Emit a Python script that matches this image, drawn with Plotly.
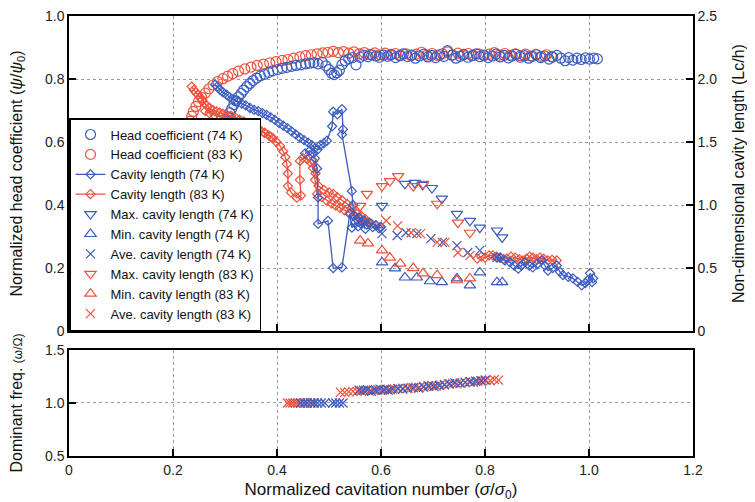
import plotly.graph_objects as go

BLUE = "#3b5cc0"
RED = "#f0513b"

# ---------------- data ----------------
HC74 = [(0.286,0.578),(0.288,0.588),(0.290,0.601),(0.292,0.614),(0.294,0.627),(0.297,0.640),(0.300,0.653),(0.303,0.667),
        (0.306,0.680),(0.309,0.693),(0.313,0.706),(0.317,0.719),(0.321,0.731),(0.326,0.743),(0.331,0.754),(0.336,0.765),
        (0.342,0.776),(0.348,0.786),(0.354,0.795),(0.361,0.803),(0.368,0.810),(0.376,0.815),(0.384,0.821),(0.392,0.826),
        (0.401,0.830),(0.410,0.834),(0.419,0.837),(0.428,0.840),(0.437,0.843),(0.446,0.845),(0.455,0.848),(0.463,0.850),
        (0.471,0.852),(0.479,0.848),(0.487,0.853),(0.494,0.842),(0.500,0.830),(0.505,0.818),(0.510,0.814),(0.515,0.820),
        (0.520,0.828),(0.525,0.846),(0.531,0.858),(0.538,0.864),(0.545,0.868),(0.552,0.845),(0.560,0.869),(0.567,0.875),
        (0.575,0.871),(0.582,0.877),(0.590,0.873),(0.597,0.869),(0.605,0.876),(0.613,0.872),(0.620,0.878),(0.628,0.868),
        (0.636,0.874),(0.643,0.880),(0.651,0.871),(0.659,0.876),(0.666,0.866),(0.674,0.873),(0.682,0.879),(0.690,0.870),
        (0.697,0.875),(0.705,0.868),(0.713,0.877),(0.721,0.872),(0.728,0.890),(0.736,0.875),(0.744,0.866),(0.752,0.872),
        (0.759,0.878),(0.767,0.869),(0.775,0.874),(0.783,0.880),(0.790,0.871),(0.798,0.876),(0.806,0.868),(0.814,0.873),
        (0.821,0.879),(0.829,0.870),(0.837,0.875),(0.845,0.867),(0.852,0.873),(0.860,0.878),(0.868,0.869),(0.876,0.874),
        (0.884,0.866),(0.891,0.872),(0.899,0.877),(0.907,0.868),(0.915,0.873),(0.923,0.863),(0.930,0.870),(0.938,0.875),
        (0.946,0.866),(0.954,0.858),(0.961,0.868),(0.969,0.860),(0.977,0.866),(0.985,0.862),(0.993,0.867),(1.001,0.863),
        (1.009,0.866),(1.016,0.864)]

HC83 = [(0.227,0.602),(0.228,0.618),(0.229,0.634),(0.231,0.650),(0.233,0.666),(0.236,0.682),(0.239,0.697),(0.244,0.713),
        (0.249,0.728),(0.255,0.742),(0.262,0.755),(0.269,0.769),(0.277,0.781),(0.286,0.792),(0.296,0.801),(0.305,0.809),
        (0.315,0.817),(0.326,0.825),(0.338,0.832),(0.350,0.838),(0.362,0.843),(0.374,0.847),(0.386,0.851),(0.398,0.855),
        (0.410,0.859),(0.421,0.862),(0.432,0.866),(0.444,0.870),(0.455,0.874),(0.466,0.877),(0.477,0.880),(0.488,0.883),
        (0.498,0.885),(0.508,0.888),(0.518,0.884),(0.528,0.887),(0.538,0.882),(0.548,0.886),(0.558,0.880),(0.568,0.884),
        (0.578,0.878),(0.588,0.883),(0.598,0.877),(0.608,0.882),(0.618,0.876),(0.628,0.881),(0.638,0.875),(0.648,0.880),
        (0.658,0.874),(0.668,0.879),(0.678,0.885),(0.688,0.876),(0.698,0.881),(0.708,0.875),(0.718,0.880),(0.728,0.886),
        (0.738,0.877),(0.748,0.882),(0.758,0.876),(0.768,0.881),(0.778,0.875),(0.788,0.880),(0.798,0.874),(0.808,0.879),
        (0.818,0.884),(0.828,0.876),(0.838,0.881),(0.848,0.875),(0.858,0.880),(0.868,0.874),(0.878,0.879),(0.888,0.873),
        (0.898,0.878),(0.908,0.872),(0.918,0.877),(0.928,0.871)]

# cavity length (Lc/h); None separates measurement runs
CL74 = [(0.281,1.955),(0.285,1.94),(0.290,1.915),(0.296,1.895),(0.303,1.875),(0.309,1.855),(0.316,1.84),(0.324,1.82),
        (0.332,1.805),(0.340,1.79),(0.348,1.77),(0.356,1.755),(0.364,1.745),(0.372,1.73),(0.380,1.715),(0.388,1.695),
        (0.396,1.675),(0.404,1.65),(0.412,1.63),(0.420,1.61),(0.428,1.585),(0.436,1.56),(0.444,1.535),(0.452,1.515),
        (0.460,1.495),(0.467,1.475),(0.473,1.45),(0.478,1.44),(0.483,1.475),(0.490,1.49),(0.496,1.51),(0.506,1.625),
        (0.508,1.74),(0.516,1.72),(0.525,1.76),(0.527,1.60),(0.525,1.56),(0.544,1.11),(0.546,1.0),(0.548,0.915),
        (0.553,0.89),(0.558,0.90),(0.563,0.865),(0.568,0.875),(0.573,0.845),(0.578,0.86),(0.584,0.825),(0.590,0.84),
        (0.596,0.815),(0.600,0.825),(None,None),
        (0.454,1.41),(0.463,1.43),(0.470,1.41),(0.473,1.37),(0.477,1.29),(0.479,1.06),(0.479,0.85),(0.498,0.875),
        (0.508,0.50),(0.525,0.505),(0.540,0.93),(0.544,0.82),(0.550,0.86),(0.556,0.83),(0.562,0.85),(0.570,0.81),
        (None,None),
        (0.823,0.583),(0.829,0.583),(0.838,0.56),(0.848,0.545),(0.856,0.52),(0.864,0.495),(0.870,0.52),(0.877,0.545),
        (0.885,0.52),(0.892,0.505),(0.900,0.53),(0.909,0.56),(0.915,0.52),(0.921,0.48),(0.930,0.50),(0.938,0.52),
        (0.944,0.47),(0.950,0.443),(0.960,0.43),(0.969,0.418),(0.978,0.39),(0.986,0.363),(0.993,0.38),(0.998,0.403),
        (1.002,0.458),(1.008,0.418),(1.006,0.388)]

CL83 = [(0.236,1.94),(0.240,1.913),(0.244,1.893),(0.248,1.875),(0.252,1.855),(0.256,1.833),(0.260,1.81),(0.265,1.788),
        (0.271,1.768),(0.277,1.753),(0.284,1.743),(0.290,1.733),(0.296,1.725),(0.304,1.715),(0.312,1.708),(0.320,1.695),
        (0.328,1.678),(0.336,1.663),(0.344,1.648),(0.352,1.63),(0.360,1.615),(0.368,1.595),(0.376,1.575),(0.384,1.553),
        (0.392,1.53),(0.399,1.50),(0.406,1.468),(0.412,1.425),(0.416,1.38),(0.419,1.325),(0.421,1.25),(0.421,1.15),
        (0.427,1.10),(0.438,1.058),(0.446,1.075),(0.444,1.20),(0.444,1.35),(0.450,1.373),(0.458,1.365),(0.465,1.338),
        (0.469,1.293),(0.473,1.20),(0.477,1.088),(0.486,1.063),(0.496,1.033),(0.505,1.013),(0.513,0.995),(0.521,0.978),
        (0.530,0.958),(0.540,0.938),(0.548,0.918),(0.556,0.90),(0.565,0.88),(0.574,0.863),(0.582,0.85),(0.590,0.838),
        (0.598,0.825),(None,None),
        (0.470,1.35),(0.474,1.25),(0.480,1.15),(0.490,1.12),(0.500,1.10),(0.508,1.088),(0.516,1.063),(0.525,1.038),
        (0.535,1.008),(0.544,0.975),(0.554,0.93),(0.562,0.913),(0.570,0.888),(None,None),
        (0.262,1.745),(0.270,1.728),(0.280,1.712),(0.292,1.700),(0.304,1.690),(0.316,1.678),(0.328,1.660),(0.340,1.640),
        (0.352,1.618),(0.364,1.596),(0.376,1.570),(0.388,1.540),(None,None),
        (0.785,0.575),(0.793,0.59),(0.800,0.583),(0.808,0.60),(0.815,0.60),(0.822,0.59),(0.829,0.583),(0.836,0.57),
        (0.842,0.575),(0.850,0.59),(0.858,0.583),(0.866,0.57),(0.873,0.56),(0.880,0.575),(0.886,0.59),(0.892,0.583),
        (0.899,0.57),(0.906,0.583),(0.913,0.575),(0.921,0.56),(0.929,0.565),(0.938,0.56)]

MAX74 = [(0.602,0.993),(0.646,1.168),(0.665,1.175),(0.680,1.16),(0.698,1.135),(0.717,1.05),(0.746,0.93),
         (0.771,0.875),(0.790,0.82),(0.823,0.798),(0.833,0.743)]
MIN74 = [(0.602,0.545),(0.627,0.498),(0.646,0.425),(0.669,0.425),(0.694,0.395),(0.717,0.388),(0.746,0.418),
         (0.771,0.363),(0.790,0.465),(0.823,0.388),(0.833,0.388)]
AVE74 = [(0.602,0.773),(0.631,0.758),(0.648,0.78),(0.669,0.773),(0.696,0.733),(0.718,0.703),(0.746,0.678),
         (0.767,0.623),(0.790,0.64),(0.823,0.583)]
MAX83 = [(0.560,0.993),(0.573,1.088),(0.602,1.15),(0.617,1.19),(0.633,1.23),(0.662,1.15),(0.681,1.168),
         (0.708,1.01),(0.748,0.86),(0.771,0.78)]
MIN83 = [(0.560,0.718),(0.575,0.695),(0.602,0.64),(0.617,0.583),(0.637,0.535),(0.662,0.50),(0.681,0.458),
         (0.708,0.443),(0.746,0.403),(0.771,0.418)]
AVE83 = [(0.610,0.875),(0.632,0.835),(0.658,0.78),(0.676,0.773),(0.708,0.703),(0.723,0.703),(0.748,0.623),
         (0.771,0.60)]

DF74 = [(0.445,1.0),(0.452,1.0),(0.458,1.0),(0.465,1.0),(0.472,1.0),(0.478,1.0),(0.485,1.0),(0.492,1.0),
        (0.507,1.0),(0.513,1.0),(0.520,1.0),(0.527,1.0),(0.558,1.12),(0.566,1.12),(0.574,1.125),(0.582,1.11),
        (0.590,1.12),(0.598,1.13),(0.606,1.125),(0.614,1.12),(0.622,1.13),(0.632,1.135),(0.642,1.13),(0.652,1.14),
        (0.662,1.145),(0.672,1.14),(0.682,1.15),(0.692,1.16),(0.702,1.155),(0.712,1.165),(0.722,1.17),(0.732,1.18),
        (0.742,1.19),(0.752,1.185),(0.762,1.195),(0.772,1.2),(0.782,1.205),(0.792,1.21),(0.800,1.215)]
DF83 = [(0.420,1.0),(0.425,1.0),(0.430,1.0),(0.435,1.0),(0.440,1.0),(0.446,1.0),(0.452,1.0),(0.458,1.0),
        (0.465,1.0),(0.470,1.0),(0.522,1.1),(0.530,1.1),(0.538,1.105),(0.546,1.11),(0.554,1.11),(0.562,1.115),
        (0.570,1.12),(0.578,1.11),(0.586,1.12),(0.594,1.125),(0.602,1.12),(0.610,1.13),(0.618,1.125),(0.626,1.13),
        (0.634,1.135),(0.642,1.14),(0.650,1.135),(0.658,1.145),(0.666,1.15),(0.674,1.145),(0.682,1.155),(0.690,1.16),
        (0.698,1.165),(0.706,1.16),(0.714,1.17),(0.722,1.175),(0.730,1.18),(0.738,1.185),(0.746,1.18),(0.754,1.19),
        (0.762,1.195),(0.770,1.2),(0.778,1.195),(0.786,1.205),(0.794,1.21),(0.802,1.215),(0.810,1.21),(0.818,1.22),
        (0.826,1.215)]

X_TICKS = [0, 0.2, 0.4, 0.6, 0.8, 1.0, 1.2]
X_LABELS = ["0", "0.2", "0.4", "0.6", "0.8", "1.0", "1.2"]
HEAD_TICKS = [0, 0.2, 0.4, 0.6, 0.8, 1.0]
HEAD_LABELS = ["0", "0.2", "0.4", "0.6", "0.8", "1.0"]
CAV_TICKS = [0, 0.5, 1.0, 1.5, 2.0, 2.5]
CAV_LABELS = ["0", "0.5", "1.0", "1.5", "2.0", "2.5"]
FREQ_TICKS = [0.5, 1.0, 1.5]
FREQ_LABELS = ["0.5", "1.0", "1.5"]


def xs(p):
    return [a for a, b in p]


def ys(p):
    return [b for a, b in p]


FONT = "Arial, Liberation Sans, sans-serif"
fig = go.Figure()


def add(pts, name, color, symbol, size, yaxis, xaxis="x2", mode="markers", rank=None, show=True, lw=1.2):
    kw = dict(x=xs(pts), y=ys(pts), name=name, mode=mode, xaxis=xaxis, yaxis=yaxis,
              showlegend=show, connectgaps=False,
              marker=dict(symbol=symbol, size=size, color=color, line=dict(width=lw, color=color)))
    if "lines" in mode:
        kw["line"] = dict(color=color, width=1.3)
    if rank is not None:
        kw["legendrank"] = rank
    fig.add_trace(go.Scatter(**kw))


add(HC83, "Head coefficient (83 K)", RED, "circle-open", 10, "y2", rank=2)
add(HC74, "Head coefficient (74 K)", BLUE, "circle-open", 10, "y2", rank=1)
add(CL83, "Cavity length (83 K)", RED, "diamond-open", 7, "y3", mode="lines+markers", rank=4)
add(CL74, "Cavity length (74 K)", BLUE, "diamond-open", 7, "y3", mode="lines+markers", rank=3)
add(MAX74, "Max. cavity length (74 K)", BLUE, "triangle-down-open", 10, "y3", rank=5)
add(MIN74, "Min. cavity length (74 K)", BLUE, "triangle-up-open", 10, "y3", rank=6)
add(AVE74, "Ave. cavity length (74 K)", BLUE, "x-thin-open", 9, "y3", rank=7)
add(MAX83, "Max. cavity length (83 K)", RED, "triangle-down-open", 10, "y3", rank=8)
add(MIN83, "Min. cavity length (83 K)", RED, "triangle-up-open", 10, "y3", rank=9)
add(AVE83, "Ave. cavity length (83 K)", RED, "x-thin-open", 9, "y3", rank=10)
add(DF83, "Dominant freq. (83 K)", RED, "x-thin-open", 9, "y", xaxis="x", show=False)
add(DF74, "Dominant freq. (74 K)", BLUE, "x-thin-open", 9, "y", xaxis="x", show=False)

axis_common = dict(showline=True, linecolor="black", linewidth=1.5, ticks="inside", ticklen=7,
                   tickcolor="black", tickwidth=1.5, zeroline=False, automargin=False,
                   ticklabeloverflow="allow",
                   tickfont=dict(family=FONT, size=14, color="#222"))
grid = dict(showgrid=True, gridcolor="#9a9a9a", gridwidth=1, griddash="dot")

# the page body adds an 8 px offset, so the figure is 747 x 494
TOP0, BOT1 = 0.284, 0.241
fig.update_layout(
    width=747, height=494,
    margin=dict(l=61, r=62, t=8, b=46, autoexpand=False),
    paper_bgcolor="white", plot_bgcolor="white",
    font=dict(family=FONT, color="#111"),
    xaxis=dict(domain=[0, 1], anchor="y", range=[0, 1.2], tickvals=X_TICKS, ticktext=X_LABELS,
               mirror=True, title=dict(text="Normalized cavitation number (<i>σ</i>/<i>σ</i><sub>0</sub>)",
                                        font=dict(size=17, family=FONT), standoff=10),
               **axis_common, **grid),
    xaxis2=dict(domain=[0, 1], anchor="y2", range=[0, 1.2], matches="x", tickvals=X_TICKS,
                showticklabels=False, mirror=True, **axis_common, **grid),
    yaxis=dict(domain=[0, BOT1], anchor="x", range=[0.5, 1.5], tickvals=FREQ_TICKS, ticktext=FREQ_LABELS,
               mirror=True, title=dict(text="Dominant freq. <span style='font-size:12px'>(ω/Ω)</span>",
                                       font=dict(size=16, family=FONT), standoff=20),
               **axis_common, **grid),
    yaxis2=dict(domain=[TOP0, 1], anchor="x2", range=[0, 1.0], tickvals=HEAD_TICKS, ticktext=HEAD_LABELS,
                mirror=True, title=dict(text="Normalized head coefficient (<i>ψ</i>/<i>ψ</i><sub>0</sub>)",
                                        font=dict(size=16, family=FONT), standoff=20),
                **axis_common, **grid),
    yaxis3=dict(domain=[TOP0, 1], anchor="x2", overlaying="y2", side="right", range=[0, 2.5],
                tickvals=CAV_TICKS, ticktext=CAV_LABELS, showgrid=False,
                title=dict(text="Non-dimensional cavity length (Lc/h)", font=dict(size=16, family=FONT), standoff=17),
                **axis_common),
    legend=dict(x=0, y=TOP0, xanchor="left", yanchor="bottom", bgcolor="white", bordercolor="black",
                borderwidth=1.5, font=dict(family=FONT, size=13, color="#111"), tracegroupgap=0,
                itemwidth=30),
)

fig.write_html("out.html")
